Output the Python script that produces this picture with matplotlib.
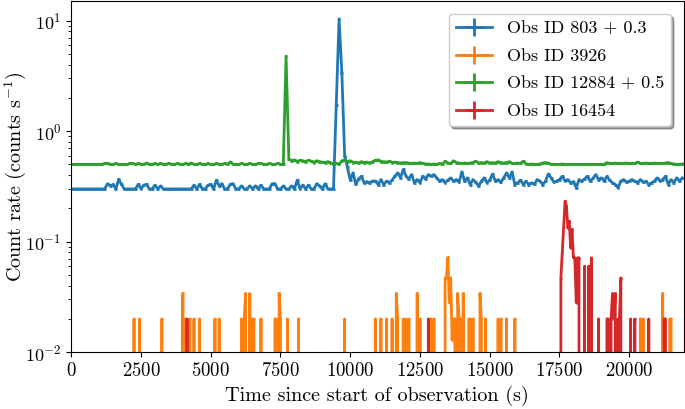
import numpy as np
import matplotlib

matplotlib.use("Agg")
import matplotlib.pyplot as plt
from matplotlib.ticker import MultipleLocator

plt.rcParams["font.family"] = "cmr10"
plt.rcParams["mathtext.fontset"] = "cm"
plt.rcParams["axes.formatter.use_mathtext"] = True
plt.rcParams["font.size"] = 14.5
plt.rcParams["xtick.labelsize"] = 13.5
plt.rcParams["ytick.labelsize"] = 13
plt.rcParams["legend.fontsize"] = 13

# 100 s bins for Obs 803 and Obs 12884 (bin start times 0, 100, ..., 21900)
BIN_LONG = 100.0
rate_803 = [
    0, 0, 0, 0, 0, 0, 0, 0, 0, 0, 0, 0, 0, 0.035, 0.02, 0.03, 0, 0.066, 0.03, 0,
    0, 0, 0, 0, 0.03, 0, 0.025, 0.03, 0, 0, 0.025, 0, 0.02, 0, 0, 0, 0, 0, 0, 0,
    0, 0, 0, 0, 0.025, 0, 0.03, 0, 0, 0.025, 0.03, 0, 0.06, 0.02, 0.035, 0, 0, 0.03, 0.035, 0,
    0, 0.02, 0, 0, 0.02, 0, 0.02, 0, 0.025, 0, 0, 0, 0.035, 0.035, 0, 0, 0.02, 0, 0, 0.02,
    0, 0.06, 0, 0.025, 0, 0.025, 0, 0, 0.035, 0.02, 0, 0.035, 0, 0, 0, 1.42, 10.1, 3.05, 0.30, 0.17,
    0.06, 0.12, 0.03, 0.07, 0.09, 0.04, 0.05, 0.04, 0.055, 0.053, 0.029, 0.065, 0.029, 0.053, 0.041, 0.06, 0.091, 0.119, 0.078, 0.15,
    0.091, 0.07, 0.105, 0.041, 0.065, 0.041, 0.091, 0.07, 0.105, 0.091, 0.105, 0.078, 0.053, 0.065, 0.041, 0.06, 0.078, 0.053, 0.065, 0.045,
    0.128, 0.053, 0.078, 0.029, 0.065, 0.045, 0.018, 0.053, 0.078, 0.041, 0.06, 0.11, 0.053, 0.065, 0.045, 0.078, 0.119, 0.078, 0.128, 0.029,
    0.041, 0.06, 0.029, 0.053, 0.029, 0.041, 0.03, 0.065, 0.053, 0.029, 0.053, 0.11, 0.078, 0.045, 0.053, 0.065, 0.091, 0.053, 0.065, 0.041,
    0.05, 0.007, 0.065, 0.053, 0.07, 0.091, 0.053, 0.075, 0.105, 0.065, 0.078, 0.053, 0.091, 0.06, 0.041, 0.029, 0.007, 0.053, 0.065, 0.045,
    0.053, 0.065, 0.053, 0.041, 0.065, 0.045, 0.053, 0.029, 0.041, 0.053, 0.078, 0.053, 0.065, 0.091, 0.029, 0.065, 0.041, 0.078, 0.053, 0.078,
]
rate_12884 = [
    0, 0, 0, 0, 0, 0, 0, 0, 0, 0, 0, 0, 0.01, 0.01, 0, 0, 0.01, 0, 0, 0,
    0, 0.01, 0.01, 0, 0.01, 0, 0, 0.015, 0, 0, 0.01, 0, 0.01, 0, 0, 0.01, 0, 0, 0.01, 0,
    0, 0.01, 0, 0.015, 0, 0, 0.01, 0, 0, 0.01, 0, 0, 0.01, 0, 0, 0.01, 0, 0.027, 0, 0,
    0, 0.01, 0, 0, 0.01, 0, 0, 0.01, 0.01, 0, 0, 0.01, 0, 0, 0.01, 0, 0, 4.27, 0.06, 0.04,
    0.05, 0.03, 0.045, 0.04, 0.03, 0.045, 0.035, 0.02, 0.04, 0.03, 0.025, 0.02, 0.03, 0.02, 0, 0.01, 0, 0.04, 0.05, 0.03,
    0.04, 0.02, 0.025, 0.015, 0.03, 0.02, 0.025, 0.015, 0.03, 0.045, 0.05, 0.03, 0.03, 0.025, 0.035, 0.02, 0.025, 0.02, 0.015, 0.02,
    0.02, 0.015, 0.01, 0.015, 0.01, 0.02, 0.01, 0.005, 0.005, 0, 0.005, 0, 0.01, 0, 0.035, 0.015, 0.01, 0.04, 0.02, 0.015,
    0.01, 0.015, 0.01, 0.015, 0.02, 0.035, 0.015, 0.02, 0.015, 0.03, 0.015, 0.02, 0.015, 0.03, 0.02, 0.015, 0.02, 0.03, 0.01, 0.01,
    0.015, 0.01, 0.035, 0.005, 0, 0.005, 0, 0, 0.005, 0.015, 0.02, 0.015, 0, 0, 0, 0, 0.005, 0, 0, 0,
    0, 0, 0, 0, 0, 0, 0, 0, 0, 0, 0, 0, 0.02, 0.01, 0.01, 0.015, 0.01, 0.01, 0.01, 0.015,
    0.01, 0.01, 0.01, 0.025, 0.01, 0.01, 0.015, 0.01, 0.01, 0.015, 0.01, 0.01, 0.01, 0.015, 0.02, 0.01, 0.005, 0, 0, 0.005,
]

# 50 s bins for Obs 3926 and Obs 16454: only the non-empty bins are listed
BIN_SHORT = 50.0
T_END = 21950
t_3926 = [
    2250, 2450, 3250, 4000, 4100, 4250, 4400, 4600, 5150, 5300,
    6100, 6200, 6250, 6400, 6500, 6550, 6800, 7300, 7350, 7450,
    7500, 7750, 8150, 9800, 10900, 11100, 11300, 11500, 11650, 11700,
    11900, 12000, 12100, 12400, 12500, 12900, 13000, 13400, 13450, 13500,
    13550, 13600, 13650, 13700, 13750, 13850, 13900, 13950, 14050, 14250,
    14300, 14400, 14650, 14700, 14850, 15300, 15400, 15600, 15900, 20400,
    20500, 21200, 21450, 21500,
]
r_3926 = [
    0.02, 0.02, 0.02, 0.034, 0.02, 0.02, 0.02, 0.02, 0.02, 0.02,
    0.02, 0.02, 0.034, 0.034, 0.02, 0.02, 0.02, 0.02, 0.02, 0.034,
    0.02, 0.02, 0.02, 0.02, 0.02, 0.02, 0.02, 0.02, 0.034, 0.02,
    0.02, 0.02, 0.02, 0.034, 0.02, 0.02, 0.02, 0.047, 0.047, 0.072,
    0.028, 0.047, 0.013, 0.02, 0.02, 0.034, 0.02, 0.02, 0.034, 0.02,
    0.02, 0.02, 0.034, 0.02, 0.02, 0.02, 0.02, 0.02, 0.02, 0.02,
    0.02, 0.034, 0.02, 0.02,
]
t_16454 = [
    4150, 12800, 17550, 17600, 17650, 17700, 17750, 17800, 17850, 17900,
    17950, 18000, 18050, 18100, 18150, 18200, 18400, 18550, 18650, 18900,
    19200, 19250, 19350, 19400, 19450, 19500, 19600, 19650, 19700, 20050,
    20200, 20700, 21250, 21300,
]
r_16454 = [
    0.02, 0.02, 0.047, 0.08, 0.14, 0.233, 0.21, 0.133, 0.153, 0.088,
    0.129, 0.0715, 0.0715, 0.028, 0.0715, 0.0715, 0.06, 0.06, 0.0715, 0.02,
    0.02, 0.02, 0.02, 0.034, 0.02, 0.034, 0.02, 0.02, 0.047, 0.02,
    0.02, 0.02, 0.02, 0.02,
]

labels = ["Obs ID 803 + 0.3", "Obs ID 3926", "Obs ID 12884 + 0.5", "Obs ID 16454"]
offsets = [0.3, 0.0, 0.5, 0.0]


def dense_curve(times, rates):
    """Expand a sparse list of non-empty 50 s bins onto the full time grid."""
    t = np.arange(0, T_END + 1, BIN_SHORT)
    r = np.zeros_like(t)
    idx = (np.asarray(times) / BIN_SHORT).astype(int)
    r[idx] = rates
    return t, r


t_long = np.arange(len(rate_803)) * BIN_LONG
curves = [
    (t_long, np.asarray(rate_803), BIN_LONG),
    (*dense_curve(t_3926, r_3926), BIN_SHORT),
    (t_long, np.asarray(rate_12884), BIN_LONG),
    (*dense_curve(t_16454, r_16454), BIN_SHORT),
]

fig, ax = plt.subplots(figsize=(6.85, 4.09), dpi=100)
ax.set_yscale("log")
for (t, r, width), off, lab in zip(curves, offsets, labels):
    ax.errorbar(t, r + off, xerr=width / 2, yerr=np.zeros_like(r),
                linewidth=2, elinewidth=2, label=lab)

ax.set_xlim(0, T_END)
ax.set_ylim(1e-2, 15)
ax.xaxis.set_major_locator(MultipleLocator(2500))
ax.set_xlabel("Time since start of observation (s)")
ax.set_ylabel("Count rate (counts s$^{-1}$)")
ax.yaxis.set_label_coords(-0.07, 0.5)
ax.legend(loc="upper right", shadow=True, labelspacing=0.65, borderaxespad=0.7)

fig.subplots_adjust(left=0.104, right=0.998, top=0.997, bottom=0.139)
fig.savefig("out.png", dpi=100)
